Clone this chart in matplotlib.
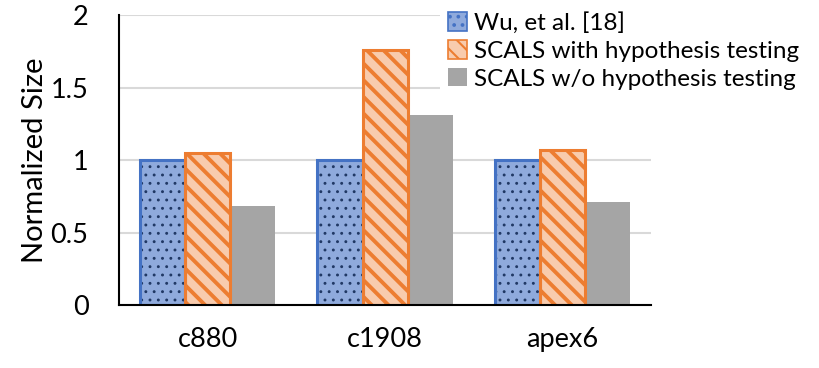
import matplotlib
matplotlib.use("Agg")
import matplotlib.pyplot as plt
import numpy as np
from matplotlib.patches import Patch

plt.rcParams['font.family'] = ['Lato', 'DejaVu Sans']

categories = ["c880", "c1908", "apex6"]
series_names = ["Wu, et al. [18]", "SCALS with hypothesis testing", "SCALS w/o hypothesis testing"]
wu = [1.0, 1.0, 1.0]
scals_ht = [1.05, 1.76, 1.07]
scals_noht = [0.68, 1.31, 0.71]
yticks = [0, 0.5, 1, 1.5, 2]
ytick_labels = ["0", "0.5", "1", "1.5", "2"]

fig = plt.figure(figsize=(8.19, 3.68), dpi=100)
ax = fig.add_axes([0.1453, 0.1712, 0.6497, 0.7878])

x = np.arange(len(categories))
w = 0.254

# blue dotted bars
plt.rcParams['hatch.linewidth'] = 0.9
ax.bar(x - w, wu, w, color="#8FAADC", edgecolor="#203864", hatch="..", linewidth=0, zorder=3)
ax.bar(x - w, wu, w, fill=False, edgecolor="#4472C4", linewidth=2.2, zorder=4)

# orange striped bars
plt.rcParams['hatch.linewidth'] = 2.8
ax.bar(x, scals_ht, w, color="#F8CBAD", edgecolor="#ED7D31", hatch="\\\\", linewidth=0, zorder=3)
ax.bar(x, scals_ht, w, fill=False, edgecolor="#ED7D31", linewidth=2.2, zorder=4)

# gray bars
ax.bar(x + w, scals_noht, w, color="#A5A5A5", linewidth=0, zorder=3)

ax.set_xlim(-0.5, 2.5)
ax.set_ylim(0, 2)
ax.set_yticks(yticks)
ax.set_yticklabels(ytick_labels)
ax.set_xticks(x)
ax.set_xticklabels(categories)
ax.tick_params(axis='both', length=0, labelsize=19.5)
ax.tick_params(axis='x', pad=16)
ax.tick_params(axis='y', pad=22)
ax.set_ylabel("Normalized Size", fontsize=21, labelpad=2)
ax.yaxis.grid(True, color="#D9D9D9", linewidth=1.5, zorder=0)
ax.set_axisbelow(True)
for s in ["top", "right"]:
    ax.spines[s].set_visible(False)
for s in ["left", "bottom"]:
    ax.spines[s].set_color("black")
    ax.spines[s].set_linewidth(1.5)
    ax.spines[s].set_zorder(5)

plt.rcParams['hatch.linewidth'] = 1.5
handles = [
    Patch(facecolor="#8FAADC", edgecolor="#4472C4", hatch="..", linewidth=1.2),
    Patch(facecolor="#F8CBAD", edgecolor="#ED7D31", hatch="\\\\", linewidth=1.2),
    Patch(facecolor="#A5A5A5", edgecolor="#A5A5A5", linewidth=0),
]
leg = fig.legend(handles, series_names, loc="upper right", bbox_to_anchor=(1.0, 1.02),
                 fontsize=17.5, frameon=True, framealpha=1, edgecolor="white",
                 handlelength=0.8, handleheight=0.8, handletextpad=0.3,
                 labelspacing=0.25, borderpad=0.3)
leg.get_frame().set_linewidth(0)

fig.savefig("out.png", dpi=100)
